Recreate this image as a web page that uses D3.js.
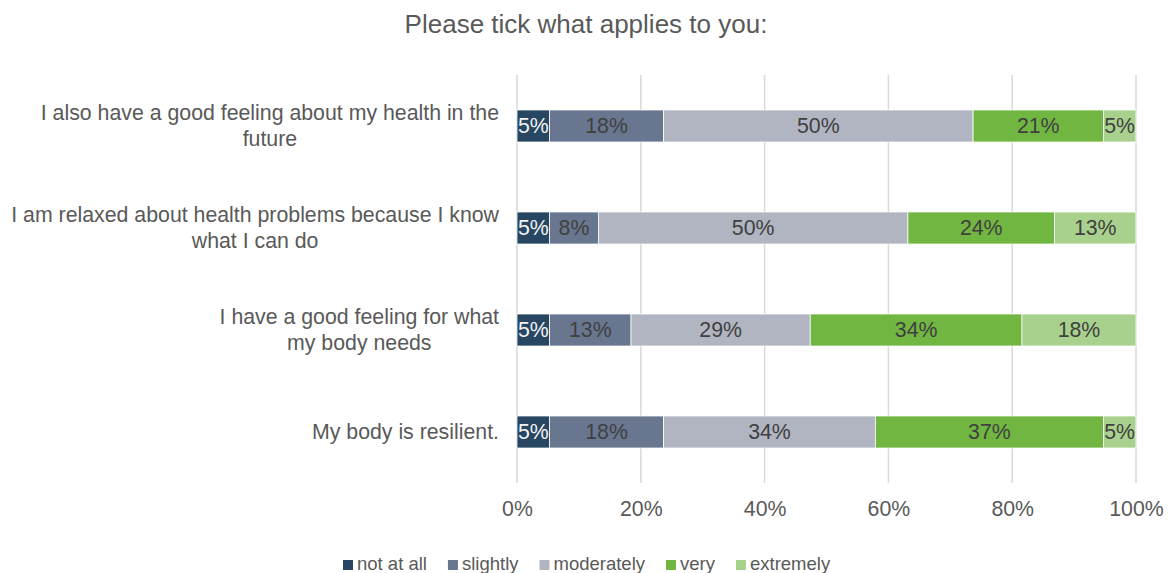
<!DOCTYPE html>
<html><head><meta charset="utf-8">
<script src="https://cdn.jsdelivr.net/npm/d3@7"></script>
<style>body{margin:0;background:#fff}svg{display:block;font-family:"Liberation Sans",Arial,sans-serif}</style>
</head><body>
<svg id="chart" width="1173" height="573"></svg>
<script>
const categories = [
  ["I also have a good feeling about my health in the", "future"],
  ["I am relaxed about health problems because I know", "what I can do"],
  ["I have a good feeling for what", "my body needs"],
  ["My body is resilient."]
];
const seriesNames = ["not at all", "slightly", "moderately", "very", "extremely"];
const seriesColors = ["#264661", "#68778f", "#b1b5c2", "#70b641", "#a9d18e"];
// percentages per category (row) for each series
const notAtAll   = [5.26, 5.26, 5.26, 5.26];
const slightly   = [18.42, 7.89, 13.16, 18.42];
const moderately = [50.00, 50.00, 28.95, 34.21];
const very       = [21.05, 23.68, 34.21, 36.84];
const extremely  = [5.26, 13.16, 18.42, 5.26];
const tickValues = [0, 20, 40, 60, 80, 100];

const series = [notAtAll, slightly, moderately, very, extremely];
const svg = d3.select("#chart");
const textColor = "#595959";
const fs = 21.3;

const x = d3.scaleLinear().domain([0, 100]).range([517, 1136]);
const y = d3.scaleBand().domain(d3.range(categories.length)).range([75, 483]).paddingInner(0.69).paddingOuter(0.345);

// title
svg.append("text").attr("x", 586).attr("y", 33).attr("text-anchor", "middle")
  .attr("font-size", 26).attr("fill", textColor).text("Please tick what applies to you:");

// gridlines
svg.append("g").selectAll("line").data(tickValues).join("line")
  .attr("x1", d => x(d)).attr("x2", d => x(d)).attr("y1", 75).attr("y2", 483)
  .attr("stroke", "#d9d9d9").attr("stroke-width", 1.5);

// axis labels
const axis = d3.axisBottom(x).tickValues(tickValues).tickFormat(d => d + "%").tickSize(0).tickPadding(0);
const ax = svg.append("g").attr("transform", "translate(0,516)").call(axis);
ax.select(".domain").remove();
ax.selectAll("text").attr("font-size", fs).attr("fill", textColor).attr("font-family", null).attr("dy", 0);

// stacked bars
const rows = categories.map((c, i) => {
  let acc = 0;
  return series.map((s, k) => { const v0 = acc; acc += s[i]; return {row: i, k, v0, v1: acc, v: s[i]}; });
});
const segs = rows.flat();
const bh = 32;
const g = svg.append("g");
g.selectAll("rect").data(segs).join("rect")
  .attr("x", d => x(d.v0)).attr("width", d => x(d.v1) - x(d.v0))
  .attr("y", d => y(d.row) + y.bandwidth() / 2 - bh / 2).attr("height", bh)
  .attr("fill", d => seriesColors[d.k]).attr("stroke", "#fff").attr("stroke-width", 0.75);
g.selectAll("text").data(segs).join("text")
  .attr("x", d => (x(d.v0) + x(d.v1)) / 2).attr("y", d => y(d.row) + y.bandwidth() / 2)
  .attr("dy", "0.35em").attr("text-anchor", "middle").attr("font-size", fs)
  .attr("fill", d => d.k === 0 ? "#f2f2f2" : "#404040")
  .text(d => Math.round(d.v) + "%");

// category labels
const lab = svg.append("g");
categories.forEach((lines, i) => {
  const cy = y(i) + y.bandwidth() / 2;
  const t = lab.append("text").attr("font-size", fs).attr("fill", textColor).attr("text-anchor", "middle");
  const lh = 26;
  lines.forEach((ln, j) => {
    t.append("tspan").attr("y", cy + (j - (lines.length - 1) / 2) * lh).attr("dy", "0.35em").text(ln);
  });
  let maxW = 0;
  t.selectAll("tspan").each(function() { maxW = Math.max(maxW, this.getComputedTextLength()); });
  t.selectAll("tspan").attr("x", 499 - maxW / 2);
});

// legend
const leg = svg.append("g").attr("transform", "translate(0,570)");
let lx = 343;
seriesNames.forEach((n, k) => {
  leg.append("rect").attr("x", lx).attr("y", -10).attr("width", 10).attr("height", 10).attr("fill", seriesColors[k]);
  const t = leg.append("text").attr("x", lx + 14).attr("y", 0)
    .attr("font-size", 18.5).attr("fill", textColor).text(n);
  lx += 14 + t.node().getComputedTextLength() + 21;
});
</script>
</body></html>
